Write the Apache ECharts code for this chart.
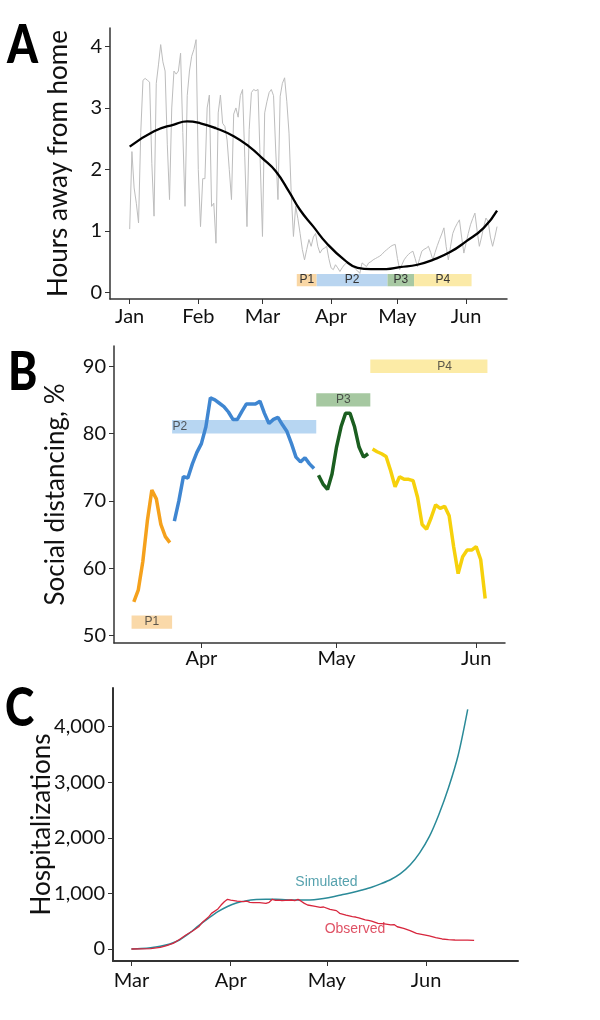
<!DOCTYPE html>
<html>
<head>
<meta charset="utf-8">
<script src="https://cdn.jsdelivr.net/npm/echarts@6/dist/echarts.min.js"></script>
<style>html,body{margin:0;padding:0;background:#fff}#c{width:600px;height:1020px}</style>
</head>
<body>
<div id="c"></div>
<script>
// ---------- data ----------
const monthNames = ['Jan','Feb','Mar','Apr','May','Jun'];
const monthStartDays = [0,31,60,91,121,152]; // day index since Jan 1, 2020

// Panel A: daily hours away from home (day 0 = Jan 1)
const greyHours = [1.03,2.29,1.70,1.45,1.13,
 2.60,3.45,3.48,3.45,3.42,2.10,1.24,
 3.40,3.70,4.03,3.75,3.60,2.40,1.51,
 3.00,3.60,3.55,3.60,3.89,2.60,1.40,
 3.20,3.60,3.84,3.95,4.11,2.00,1.07,
 1.85,1.85,3.00,3.21,1.40,1.45,0.80,
 2.92,3.21,2.75,2.70,2.48,2.00,1.51,
 2.90,3.00,2.85,3.20,3.30,2.20,1.07,
 2.65,3.25,3.30,3.28,3.30,2.10,0.91,
 2.92,3.10,3.25,3.30,3.20,2.30,1.51,
 3.19,3.40,3.49,3.10,2.59,1.60,0.91,
 1.40,1.20,0.96,0.70,0.53,0.70,0.86,0.75,0.90,0.96,0.75,0.64,0.70,0.72,0.75,0.55,0.40,0.37,0.45,0.40,
 0.34,0.40,0.45,0.48,0.45,0.43,0.42,0.38,0.35,0.31,0.48,0.45,0.42,0.48,0.50,0.53,0.55,0.57,0.59,0.62,
 0.66,0.69,0.72,0.75,0.77,0.78,0.55,0.37,0.45,0.53,0.58,0.62,0.65,0.67,0.55,0.42,0.55,0.67,0.70,0.72,
 0.75,0.65,0.53,0.65,0.76,0.86,0.95,1.05,0.75,0.53,0.75,0.96,1.05,1.12,1.18,0.90,0.64,0.80,0.96,1.10,
 1.20,1.29,1.00,0.75,0.90,1.07,1.21,1.15,0.90,0.75,0.90,1.07];
const trendDays  = [0,11,20,26,32,39,47,54,60,66,72,77,83,89,97,103,109,116,122,130,137,145,152,160,166];
const trendHours = [2.37,2.62,2.73,2.78,2.75,2.67,2.54,2.37,2.18,1.97,1.64,1.34,1.07,0.80,0.53,0.40,0.38,0.38,0.41,0.45,0.53,0.66,0.83,1.05,1.33];

// Periods
const periodNames = ['P1','P2','P3','P4'];
const periodStart = [75.5,84.5,116.5,128.5];
const periodEnd   = [84.5,116.5,128.5,154.5];
const periodBarA  = [0.1,0.3];               // hours band in panel A
const periodBarBLow  = [51,80,84,89];        // % band in panel B
const periodBarBHigh = [53,82,86,91];
const periodLabelDayB = [80,86.2,122.5,145];

// Panel B: social distancing %
const p1Start = 76;  const p1Vals = [55,56.8,61,67,71.6,70.3,66.5,64.7,63.8];
const p2Start = 85;  const p2Vals = [67,70,73.6,73.4,75.5,77.2,78.5,81,85.3,85,84.5,84,83.2,82.1,82.1,83.3,84.4,84.4,84.4,84.8,83,81.5,82.1,82.4,81.3,80.3,78.5,76.5,75.8,76.4,75.5,74.8];
const p3Start = 117; const p3Vals = [73.8,72.5,71.7,74,78,81,83,83,81,78,76.5,77];
const p4Start = 129; const p4Vals = [77.7,77.3,77,76.6,74.5,72.1,73.6,73.2,73.2,73,70.5,66.5,65.8,67.5,69.4,68.9,69.2,67.8,63.2,59.2,61.7,62.7,62.7,63.2,61.3,55.5];

// Panel C: hospitalizations
const simDays = [60,63,66,69,72,75,78,81,84,87,90,93,96,99,102,105,108,111,114,117,120,123,126,129,132,135,138,141,144,147,150,153,156,159,162,165];
const simVals = [0,8,22,48,90,162,280,420,550,670,765,830,870,888,893,893,886,881,880,885,908,940,980,1015,1060,1110,1175,1250,1355,1510,1730,2020,2420,2900,3480,4310];
const obsDays = [60,63,66,69,71,73,75,77,79,81,82,84,85,87,88,89,90,91,92,93,95,96,97,98,100,102,103,104,105,106,107,108,110,111,112,113,114,115,117,119,120,122,124,125,127,129,130,131,133,134,135,137,139,141,142,143,145,147,149,151,153,155,157,159,161,163,165,167];
const obsVals = [0,2,8,30,60,102,170,252,320,400,470,570,640,720,790,850,893,880,870,860,851,860,840,833,835,821,840,893,875,880,869,875,881,870,893,860,820,791,770,749,755,713,690,641,610,582,575,560,522,515,500,462,450,432,440,400,372,330,282,260,234,205,180,170,162,158,160,155];

const yTicksA = [0,1,2,3,4];
const yTicksB = [50,60,70,80,90];
const yTicksC = [0,1000,2000,3000,4000];

// ---------- helpers ----------
const pairs = (days, vals) => vals.map((v,i)=>[days[i], v]);
const seq = (start, vals) => vals.map((v,i)=>[start+i, v]);
const FONT = 'Lato';
const monthFmt = v => { const i = monthStartDays.indexOf(v); return i>=0 ? monthNames[i] : ''; };

function xAxisFor(gridIndex, min, max, ticks, lineW, margin){
  return {
    type:'value', gridIndex, min, max,
    axisLine:{show:true, onZero:false, lineStyle:{color:'#333', width:lineW}},
    axisTick:{show:true, customValues:ticks, length:5, lineStyle:{color:'#333', width:1}},
    axisLabel:{customValues:ticks, formatter:monthFmt, fontFamily:FONT, fontSize:20, color:'#111', margin},
    splitLine:{show:false}
  };
}
function yAxisFor(gridIndex, min, max, ticks, name, nameGap, lineW, fmt){
  return {
    type:'value', gridIndex, min, max,
    name, nameLocation:'middle', nameGap, nameRotate:90, nameMoveOverlap:false,
    nameTextStyle:{fontFamily:FONT, fontSize:26, color:'#111'},
    axisLine:{show:true, onZero:false, lineStyle:{color:'#333', width:lineW}},
    axisTick:{show:true, customValues:ticks, length:5, lineStyle:{color:'#333', width:1}},
    axisLabel:{customValues:ticks, formatter:fmt, fontFamily:FONT, fontSize:20, color:'#111', margin:8},
    splitLine:{show:false}
  };
}

const colA = ['#F9D7A5','#B9D5F0','#A8C9A3','#FBEAA8'];
const colB = ['#FAD9A9','#B7D6F2','#A6C8A1','#FCEBA6'];
const lineB = ['#F5A11C','#3F86D1','#1B5E20','#F6D10C'];

const markAreaA = {
  silent:true,
  data: periodNames.map((n,i)=>[
    {name:n, xAxis:periodStart[i], yAxis:periodBarA[0], itemStyle:{color:colA[i]},
     label:{show:true, position:'inside', formatter:n, fontFamily:'Liberation Sans', fontSize:12, color:'#333'}},
    {xAxis:periodEnd[i], yAxis:periodBarA[1]}
  ])
};
const markAreaB = {
  silent:true,
  data: periodNames.map((n,i)=>[
    {name:n, xAxis:periodStart[i], yAxis:periodBarBLow[i], itemStyle:{color:colB[i]}, label:{show:false}},
    {xAxis:periodEnd[i], yAxis:periodBarBHigh[i]}
  ])
};
const periodLabelsB = periodNames.map((n,i)=>({
  value:[periodLabelDayB[i], (periodBarBLow[i]+periodBarBHigh[i])/2], name:n
}));
const hidden = {color:'rgba(0,0,0,0)'};
const letter = (t, x, y) => ({type:'text', x, y, scaleX:0.82, silent:true,
  style:{text:t, font:'900 54px Lato', fill:'#000', textVerticalAlign:'top', textAlign:'left'}});

const chart = echarts.init(document.getElementById('c'), null, {renderer:'canvas'});
chart.setOption({
  animation:false,
  backgroundColor:'#fff',
  graphic:[letter('A',7,19), letter('B',8,346), letter('C',5,682)],
  grid:[
    {left:110, top:28, width:397, height:271},
    {left:114, top:346, width:391, height:297},
    {left:113, top:688, width:405, height:273}
  ],
  xAxis:[
    xAxisFor(0, -8.9, 170.5, monthStartDays, 1.5, 8),
    xAxisFor(1, 71.6, 158.4, [91,121,152], 1.5, 6),
    xAxisFor(2, 54.25, 180.7, [60,91,121,152], 2, 10)
  ],
  yAxis:[
    yAxisFor(0, -0.107, 4.30, yTicksA, 'Hours away from home', 38, 1.5, v=>String(v)),
    yAxisFor(1, 48.9, 93.0, yTicksB, 'Social distancing, %', 45, 1.5, v=>String(v)),
    yAxisFor(2, -216, 4694, yTicksC, 'Hospitalizations', 58, 2, v=>v.toLocaleString('en-US'))
  ],
  series:[
    {type:'line', xAxisIndex:0, yAxisIndex:0, data:greyHours.map((v,i)=>[i,v]), showSymbol:false,
     lineStyle:{color:'#BDBDBD', width:1}, z:2, markArea:markAreaA},
    {type:'line', xAxisIndex:0, yAxisIndex:0, data:pairs(trendDays,trendHours), smooth:0.5, showSymbol:false,
     lineStyle:{color:'#000', width:2.3}, z:4},

    {type:'line', xAxisIndex:1, yAxisIndex:1, data:seq(p1Start,p1Vals), showSymbol:false, lineStyle:{color:lineB[0], width:3.5}, z:3, markArea:markAreaB},
    {type:'line', xAxisIndex:1, yAxisIndex:1, data:seq(p2Start,p2Vals), showSymbol:false, lineStyle:{color:lineB[1], width:3.5}, z:4},
    {type:'line', xAxisIndex:1, yAxisIndex:1, data:seq(p3Start,p3Vals), showSymbol:false, lineStyle:{color:lineB[2], width:3.5}, z:4},
    {type:'line', xAxisIndex:1, yAxisIndex:1, data:seq(p4Start,p4Vals), showSymbol:false, lineStyle:{color:lineB[3], width:3.5}, z:4},
    {type:'scatter', xAxisIndex:1, yAxisIndex:1, data:periodLabelsB, symbolSize:1, itemStyle:hidden, z:5, silent:true,
     label:{show:true, position:'inside', formatter:p=>p.name, fontFamily:'Liberation Sans', fontSize:12, color:'#333'}},

    {type:'line', xAxisIndex:2, yAxisIndex:2, data:pairs(simDays,simVals), smooth:0.3, showSymbol:false, lineStyle:{color:'#2A8A98', width:1.5}, z:3},
    {type:'line', xAxisIndex:2, yAxisIndex:2, data:pairs(obsDays,obsVals), showSymbol:false, lineStyle:{color:'#D7263D', width:1.3}, z:4},
    {type:'scatter', xAxisIndex:2, yAxisIndex:2, data:[{value:[120.9,1210], name:'Simulated'}], symbolSize:1, itemStyle:hidden, silent:true,
     label:{show:true, position:'inside', formatter:p=>p.name, fontFamily:'Liberation Sans', fontSize:14, color:'#2A8A98'}},
    {type:'scatter', xAxisIndex:2, yAxisIndex:2, data:[{value:[129.8,354], name:'Observed'}], symbolSize:1, itemStyle:hidden, silent:true,
     label:{show:true, position:'inside', formatter:p=>p.name, fontFamily:'Liberation Sans', fontSize:14, color:'#D7263D'}}
  ]
});
</script>
</body>
</html>
